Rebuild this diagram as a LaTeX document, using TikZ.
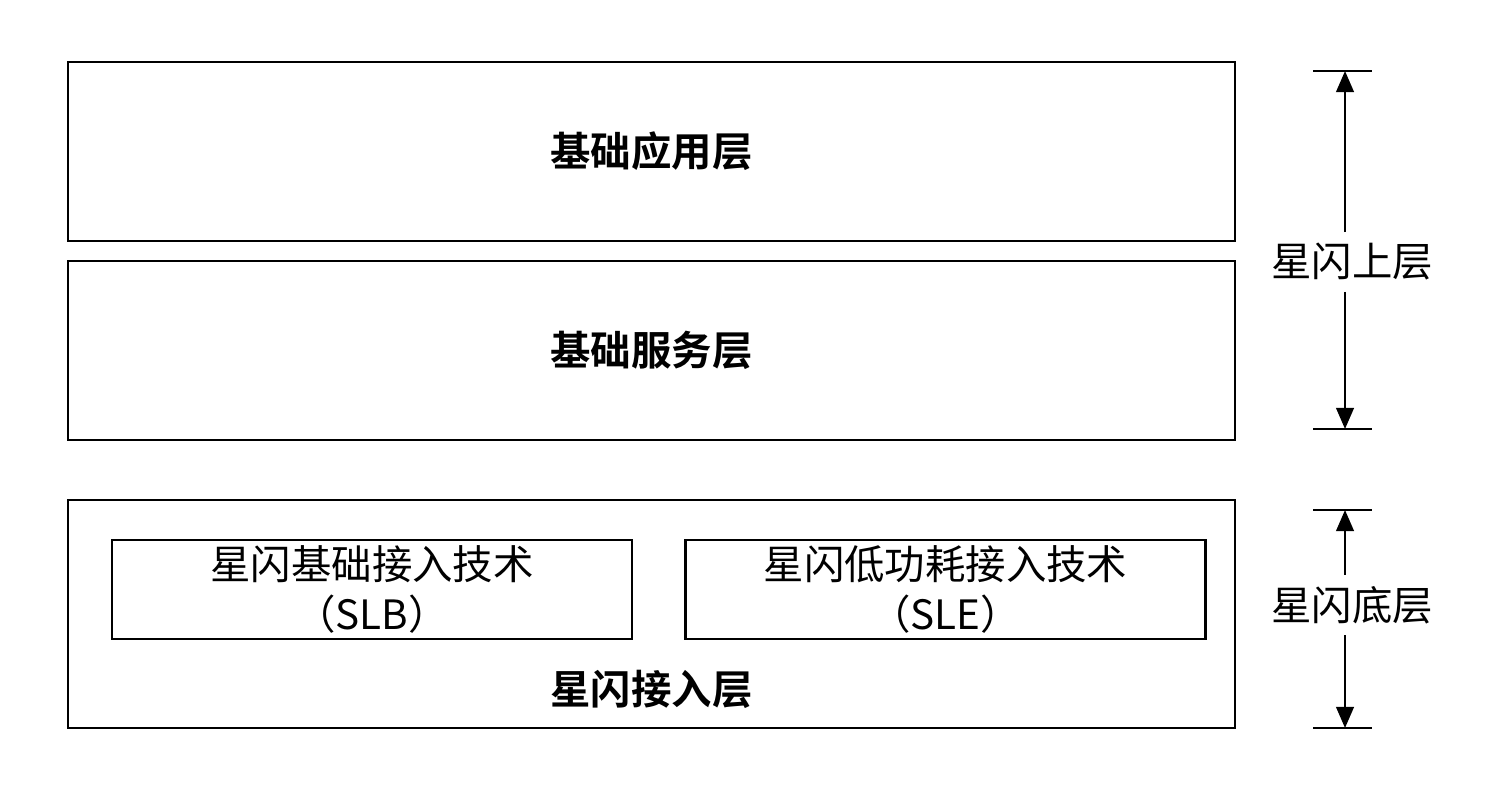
\documentclass[tikz,border=0pt]{standalone}
\usepackage{fontspec}
\setmainfont{Noto Sans CJK SC}[BoldFont={Noto Sans CJK SC Bold}]
\usepackage{tikz}
\usetikzlibrary{arrows.meta}

\tikzset{
    layer/.style={draw, line width=0.7pt, minimum width=11.67cm, minimum height=1.79cm},
    tech/.style={draw, line width=0.7pt, minimum width=5.2cm, minimum height=0.99cm, inner ysep=0.3pt, align=center},
    dimline/.style={line width=0.7pt, -{Triangle[length=6pt,width=5pt]}},
    txt/.style={font=\fontsize{11.5pt}{14pt}\selectfont}
}

\begin{document}
\begin{tikzpicture}[txt]
    \useasboundingbox (0,0) rectangle (14.93,7.88);

    % Layers
    \node[layer, font=\fontsize{11.5pt}{14pt}\selectfont\bfseries] (app) at (6.515,6.365) {基础应用层};
    \node[layer, font=\fontsize{11.5pt}{14pt}\selectfont\bfseries] (srv) at (6.515,4.375) {基础服务层};
    \node[layer, minimum height=2.28cm] (acc) at (6.515,1.74) {};
    \node[font=\fontsize{11.5pt}{14pt}\selectfont\bfseries] (accl) at ([yshift=0.4cm]acc.south) {星闪接入层};

    % Access technologies
    \node[tech] (slb) at (3.72,1.985) {星闪基础接入技术\\（SLB）};
    \node[tech] (sle) at (9.455,1.985) {星闪低功耗接入技术\\（SLE）};

    % Upper dimension
    \coordinate (utop) at (13.45,7.17);
    \coordinate (ubot) at (13.45,3.59);
    \node[inner ysep=3pt] (upper) at (13.52,5.26) {星闪上层};
    \draw[line width=0.7pt] ([xshift=-0.32cm]utop) -- ([xshift=0.27cm]utop);
    \draw[line width=0.7pt] ([xshift=-0.32cm]ubot) -- ([xshift=0.27cm]ubot);
    \draw[dimline] (upper.north -| utop) -- (utop);
    \draw[dimline] (upper.south -| ubot) -- (ubot);

    % Lower dimension
    \coordinate (ltop) at (13.45,2.78);
    \coordinate (lbot) at (13.45,0.60);
    \node[inner ysep=3pt] (lower) at (13.52,1.83) {星闪底层};
    \draw[line width=0.7pt] ([xshift=-0.32cm]ltop) -- ([xshift=0.27cm]ltop);
    \draw[line width=0.7pt] ([xshift=-0.32cm]lbot) -- ([xshift=0.27cm]lbot);
    \draw[dimline] (lower.north -| ltop) -- (ltop);
    \draw[dimline] (lower.south -| lbot) -- (lbot);
\end{tikzpicture}
\end{document}
